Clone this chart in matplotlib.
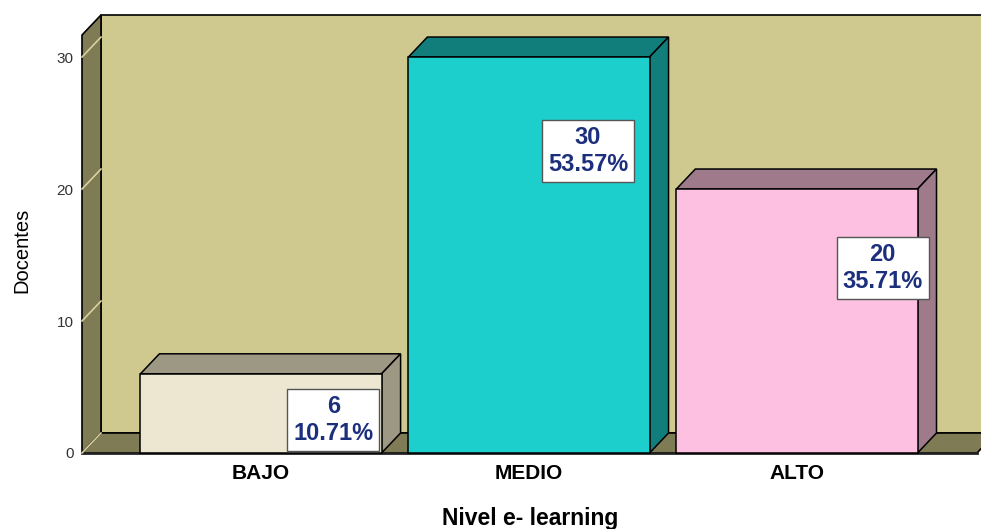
import matplotlib.pyplot as plt
from matplotlib.patches import Polygon, Rectangle

# data
categories = ["BAJO", "MEDIO", "ALTO"]
docentes = [6, 30, 20]
porcentajes = [10.71, 53.57, 35.71]
y_ticks = [0, 10, 20, 30]

# styling / layout
front_colors = ["#ede6d0", "#1ccfcd", "#fec0e0"]
side_colors = ["#9d9884", "#127e7b", "#9e7a8a"]
wall_color = "#cfc98f"
floor_color = "#7f7b55"
grid_color = "#d8d29c"
label_color = "#1b2f7d"
label_dx = [0.27, 0.22, 0.32]
label_y = [2.5, 22.85, 14.0]
bar_width = 0.9

W, H = 981, 529
plt.rcParams["font.family"] = ["Liberation Sans", "DejaVu Sans"]
fig = plt.figure(figsize=(W / 100, H / 100), dpi=100)

# front plane of the axes in pixels
px_left, px_right, px_top, px_bottom = 82, 977, 35, 453
ax = fig.add_axes([px_left / W, (H - px_bottom) / H,
                   (px_right - px_left) / W, (px_bottom - px_top) / H])
xmin, xmax = -0.668, 2.672
ymax = 31.67
ax.set_xlim(xmin, xmax)
ax.set_ylim(0, ymax)

# 3D depth in data units (19 px right, 20 px up)
ddx = 19 * (xmax - xmin) / (px_right - px_left)
ddy = 20 * ymax / (px_bottom - px_top)

for s in ax.spines.values():
    s.set_visible(False)
ax.patch.set_visible(False)

# back wall
ax.add_patch(Rectangle((xmin + ddx, ddy), xmax - xmin, ymax, facecolor=wall_color,
                       edgecolor="black", lw=1.2, clip_on=False, zorder=1))
# left wall
ax.add_patch(Polygon([(xmin, 0), (xmin, ymax), (xmin + ddx, ymax + ddy), (xmin + ddx, ddy)],
                     closed=True, facecolor=floor_color, edgecolor="black", lw=1.2,
                     clip_on=False, zorder=2))
# floor
ax.add_patch(Polygon([(xmin, 0), (xmax, 0), (xmax + ddx, ddy), (xmin + ddx, ddy)],
                     closed=True, facecolor=floor_color, edgecolor="black", lw=1.2,
                     clip_on=False, zorder=2))
ax.plot([xmin, xmax], [0, 0], color="#222222", lw=2, clip_on=False, zorder=3)
# grid lines on the left wall
for t in y_ticks:
    ax.plot([xmin, xmin + ddx], [t, t + ddy], color=grid_color, lw=1.2,
            clip_on=False, zorder=3)

# bars
for i, v in enumerate(docentes):
    x0 = i - bar_width / 2
    x1 = i + bar_width / 2
    top = Polygon([(x0, v), (x1, v), (x1 + ddx, v + ddy), (x0 + ddx, v + ddy)],
                  closed=True, facecolor=side_colors[i], edgecolor="black", lw=1.1,
                  clip_on=False, zorder=4)
    side = Polygon([(x1, 0), (x1, v), (x1 + ddx, v + ddy), (x1 + ddx, ddy)],
                   closed=True, facecolor=side_colors[i], edgecolor="black", lw=1.1,
                   clip_on=False, zorder=4)
    front = Rectangle((x0, 0), bar_width, v, facecolor=front_colors[i],
                      edgecolor="black", lw=1.1, clip_on=False, zorder=5)
    ax.add_patch(top)
    ax.add_patch(side)
    ax.add_patch(front)
    ax.text(i + label_dx[i], label_y[i], f"{v}\n{porcentajes[i]:.2f}%",
            ha="center", va="center", multialignment="center",
            fontsize=17, fontweight="bold", color=label_color, linespacing=1.23,
            bbox=dict(boxstyle="square,pad=0.25", facecolor="white",
                      edgecolor="#555555", lw=1),
            zorder=10)

# ticks
ax.set_xticks(range(len(categories)))
ax.set_xticklabels(categories, fontsize=15, fontweight="bold", color="black")
ax.set_yticks(y_ticks)
ax.set_yticklabels([str(t) for t in y_ticks], fontsize=11, color="#333333")
ax.tick_params(axis="x", length=0, pad=8)
ax.tick_params(axis="y", length=0, pad=6)

fig.text(530 / W, 1 - 518 / H, "Nivel e- learning", ha="center", va="center",
         fontsize=16.5, fontweight="bold")
fig.text(22 / W, 1 - 250 / H, "Docentes", ha="center", va="center",
         rotation=90, fontsize=14.5)

fig.savefig("out.png", dpi=100)
